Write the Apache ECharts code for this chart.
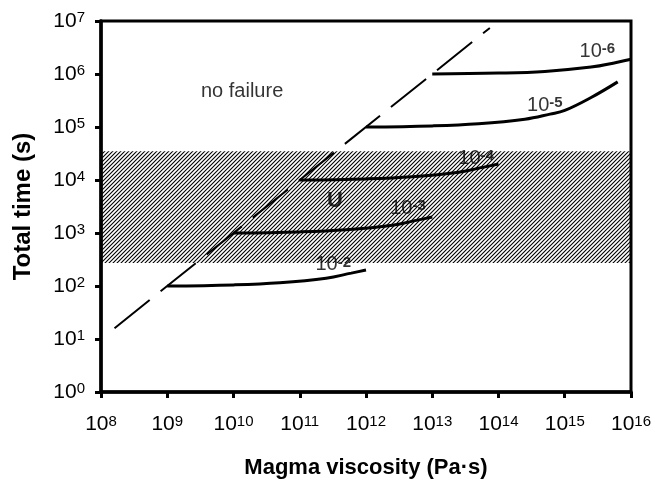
<!DOCTYPE html>
<html>
<head>
    <meta charset="UTF-8">
    <title>Total time vs magma viscosity</title>
    <script src="https://cdn.jsdelivr.net/npm/echarts@6/dist/echarts.min.js"></script>
    <style type="text/css">
        html, body { margin: 0; padding: 0; background: #fff; }
        #main { width: 655px; height: 480px; }
    </style>
</head>
<body>
<div id="main"></div>
<script>
    // curves of strain rate 10^-2 ... 10^-6, [viscosity, time]
    var curve2 = [[1e9, 100], [1e10, 105], [5e10, 115], [2.5e11, 140], [6e11, 175], [1e12, 200]];
    var curve3 = [[1e10, 1000], [1e11, 1050], [5e11, 1150], [2.5e12, 1400], [6e12, 1750], [1e13, 2000]];
    var curve4 = [[1e11, 1e4], [1e12, 1.05e4], [5e12, 1.15e4], [2.5e13, 1.4e4], [6e13, 1.75e4], [1e14, 2e4]];
    var curve5 = [[1e12, 1e5], [1e13, 1.05e5], [5e13, 1.15e5], [2.5e14, 1.4e5], [6e14, 1.75e5], [1e15, 2.05e5], [2.5e15, 3.6e5], [6.3e15, 7.1e5]];
    var curve6 = [[1e13, 1e6], [1e14, 1.04e6], [5e14, 1.12e6], [2.5e15, 1.35e6], [6e15, 1.65e6], [1e16, 1.9e6]];
    // failure limit (dashed)
    var limitLine = [[1.6e8, 16], [7.4e13, 7.4e6]];
    // hatched band U (time range)
    var bandTime = [272, 35000];
    // text labels inside the plot
    var labelNames = ['no failure', 'U', '-2', '-3', '-4', '-5', '-6'];
    var labelX = [1.35e10, 3.4e11, 3.2e11, 4.3e12, 4.6e13, 5e14, 3.1e15];
    var labelY = [4.6e5, 4e3, 250, 2950, 2.6e4, 2.6e5, 2.7e6];

    var font = 'Liberation Sans, Arial, sans-serif';

    // hatch tile
    var tile = document.createElement('canvas');
    tile.width = 4;
    tile.height = 4;
    var ctx = tile.getContext('2d');
    ctx.strokeStyle = '#000';
    ctx.lineWidth = 1.1;
    ctx.beginPath();
    ctx.moveTo(0, 4); ctx.lineTo(4, 0);
    ctx.moveTo(-1, 1); ctx.lineTo(1, -1);
    ctx.moveTo(3, 5); ctx.lineTo(5, 3);
    ctx.stroke();

    function powLabel(v) {
        var e = Math.round(Math.log10(v));
        return '{b|10}{s|' + e + '}';
    }
    var tickRich = {
        b: { fontSize: 21, fontFamily: font, color: '#000', lineHeight: 21 },
        s: { fontSize: 15, fontFamily: font, color: '#000', verticalAlign: 'top', lineHeight: 15 }
    };

    var labelData = [];
    for (var i = 0; i < labelNames.length; i++) {
        labelData.push({ name: labelNames[i], value: [labelX[i], labelY[i]] });
    }

    var curveStyle = { color: '#000', width: 3 };
    function curveSeries(d) {
        return { type: 'line', data: d, smooth: 0.4, symbol: 'none', lineStyle: curveStyle, z: 4 };
    }

    var myChart = echarts.init(document.getElementById('main'));
    var option = {
        animation: false,
        backgroundColor: '#fff',
        grid: {
            left: 101, right: 24, top: 21, bottom: 88, outerBoundsMode: 'none', containLabel: false,
            show: true, borderColor: '#000', borderWidth: 3
        },
        xAxis: {
            type: 'log', logBase: 10, min: 1e8, max: 1e16, interval: 1,
            name: 'Magma viscosity (Pa·s)', nameLocation: 'middle', nameGap: 65,
            nameTextStyle: { fontSize: 22, fontWeight: 'bold', fontFamily: font, color: '#000' },
            axisLine: { lineStyle: { color: '#000', width: 3.5 } },
            axisTick: { length: 6, lineStyle: { color: '#000', width: 3 } },
            minorTick: { show: false },
            splitLine: { show: false },
            axisLabel: { margin: 22, formatter: powLabel, rich: tickRich }
        },
        yAxis: {
            type: 'log', logBase: 10, min: 1, max: 1e7, interval: 1,
            name: 'Total time (s)', nameLocation: 'middle', nameGap: 66,
            nameTextStyle: { fontSize: 24, fontWeight: 'bold', fontFamily: font, color: '#000' },
            axisLine: { lineStyle: { color: '#000', width: 3.5 } },
            axisTick: { length: 6, lineStyle: { color: '#000', width: 3 } },
            minorTick: { show: false },
            splitLine: { show: false },
            axisLabel: { margin: 16, formatter: powLabel, rich: tickRich }
        },
        series: [
            {
                type: 'line', data: limitLine, symbol: 'none', z: 3,
                lineStyle: { color: '#000', width: 2, type: [45, 14] },
                markArea: {
                    silent: true,
                    itemStyle: { color: { image: tile, repeat: 'repeat' } },
                    data: [[{ yAxis: bandTime[0] }, { yAxis: bandTime[1] }]]
                }
            },
            curveSeries(curve2),
            curveSeries(curve3),
            curveSeries(curve4),
            curveSeries(curve5),
            curveSeries(curve6),
            {
                type: 'scatter', data: labelData, symbolSize: 1, z: 5,
                itemStyle: { color: 'rgba(0,0,0,0)' },
                label: {
                    show: true, position: 'inside',
                    formatter: function (p) {
                        if (p.name === 'no failure') return '{n|no failure}';
                        if (p.name === 'U') return '{u|U}';
                        return '{b|10}{s|' + p.name + '}';
                    },
                    rich: {
                        n: { fontSize: 20, fontFamily: font, color: '#000' },
                        u: { fontSize: 22, fontWeight: 'bold', fontFamily: font, color: '#000' },
                        b: { fontSize: 20, fontFamily: font, color: '#000', lineHeight: 20 },
                        s: { fontSize: 15, fontWeight: 'bold', fontFamily: font, color: '#000', verticalAlign: 'top', lineHeight: 15 }
                    }
                }
            }
        ]
    };
    myChart.setOption(option);
</script>
</body>
</html>
